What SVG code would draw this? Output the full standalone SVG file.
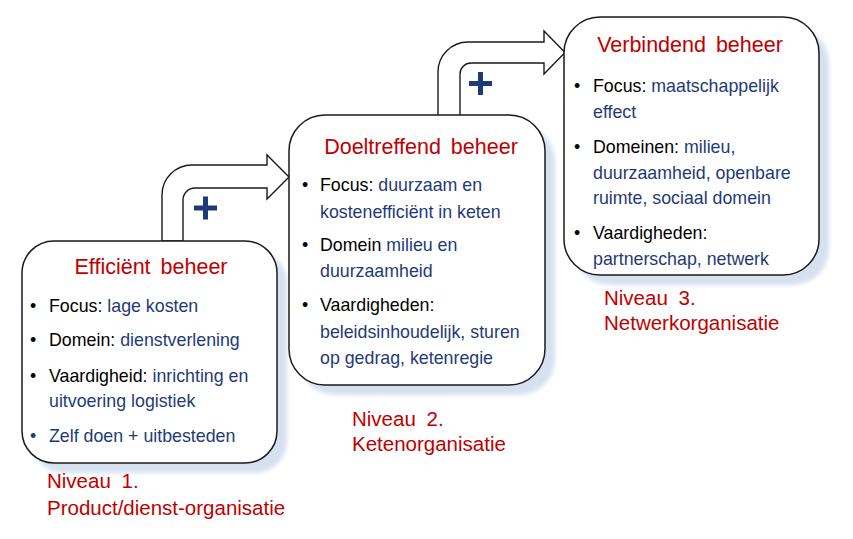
<svg xmlns="http://www.w3.org/2000/svg" width="853" height="539" viewBox="0 0 853 539">
<defs>
<filter id="blur" x="-10%" y="-10%" width="120%" height="120%"><feGaussianBlur stdDeviation="2"/></filter>
<style>
.box{fill:#fff;stroke:#1a1a1a;stroke-width:1.5}
.shadow{fill:#d6e1ef;filter:url(#blur)}
.arrow{fill:#fff;stroke:#1a1a1a;stroke-width:1.4;stroke-linejoin:miter}
.plus{stroke:#1f3a78;stroke-width:5;fill:none}
text{font-family:"Liberation Sans",Arial,sans-serif}
.title{font-size:21.5px;fill:#c00000;text-anchor:middle;word-spacing:4px}
.b{font-size:17.8px;fill:#000}
.n{fill:#1f3a78}
.lbl{font-size:20.5px;fill:#c00000}
</style>
</defs>
<g id="shadows">
<rect class="shadow" x="32" y="251" width="255" height="222" rx="32"/>
<rect class="shadow" x="299" y="125" width="256" height="270" rx="36"/>
<rect class="shadow" x="574" y="27" width="255" height="258" rx="36"/>
</g>
<g id="connectors">
<path class="arrow" d="M162,241 V195 A30,30 0 0 1 192,165 H267 V155 L289,177 L267,199 V188 H195 A12,12 0 0 0 183,200 V241 Z"/>
<path class="plus" d="M194,208 H217 M205.5,196.5 V219.5"/>
<path class="arrow" d="M438,116 V72 A30,30 0 0 1 468,42 H544 V31 L565,52.5 L544,74 V63 H471 A11,11 0 0 0 460,74 V116 Z"/>
<path class="plus" d="M469,83.5 H492 M480.5,72 V95"/>
</g>
<g id="node1">
<rect class="box" x="22" y="241" width="255" height="222" rx="32"/>
<text class="title" x="151" y="274">Efficiënt beheer</text>
<text class="b" x="30" y="312">•<tspan x="49">Focus: </tspan><tspan class="n">lage kosten</tspan></text>
<text class="b" x="30" y="346">•<tspan x="49">Domein: </tspan><tspan class="n">dienstverlening</tspan></text>
<text class="b" x="30" y="382">•<tspan x="49">Vaardigheid: </tspan><tspan class="n">inrichting en</tspan></text>
<text class="b n" x="49" y="407">uitvoering logistiek</text>
<text class="b n" x="30" y="442">•<tspan x="49">Zelf doen + uitbesteden</tspan></text>
</g>
<g id="node2">
<rect class="box" x="289" y="115" width="256" height="270" rx="36"/>
<text class="title" x="421" y="154">Doeltreffend beheer</text>
<text class="b" x="302" y="191">•<tspan x="320">Focus: </tspan><tspan class="n">duurzaam en</tspan></text>
<text class="b n" x="320" y="218">kostenefficiënt in keten</text>
<text class="b" x="302" y="251">•<tspan x="320">Domein </tspan><tspan class="n">milieu en</tspan></text>
<text class="b n" x="320" y="277">duurzaamheid</text>
<text class="b" x="302" y="311">•<tspan x="320">Vaardigheden:</tspan></text>
<text class="b n" x="320" y="338">beleidsinhoudelijk, sturen</text>
<text class="b n" x="320" y="364">op gedrag, ketenregie</text>
</g>
<g id="node3">
<rect class="box" x="564" y="17" width="255" height="258" rx="36"/>
<text class="title" x="690" y="52">Verbindend beheer</text>
<text class="b" x="574" y="92">•<tspan x="593">Focus: </tspan><tspan class="n">maatschappelijk</tspan></text>
<text class="b n" x="593" y="118">effect</text>
<text class="b" x="574" y="153">•<tspan x="593">Domeinen: </tspan><tspan class="n">milieu,</tspan></text>
<text class="b n" x="593" y="179">duurzaamheid, openbare</text>
<text class="b n" x="593" y="204">ruimte, sociaal domein</text>
<text class="b" x="574" y="239">•<tspan x="593">Vaardigheden:</tspan></text>
<text class="b n" x="593" y="265">partnerschap, netwerk</text>
</g>
<g id="labels">
<text class="lbl" x="47" y="488" word-spacing="5">Niveau 1.</text>
<text class="lbl" x="47" y="515">Product/dienst-organisatie</text>
<text class="lbl" x="352" y="426" word-spacing="5">Niveau 2.</text>
<text class="lbl" x="352" y="451">Ketenorganisatie</text>
<text class="lbl" x="604" y="305" word-spacing="5">Niveau 3.</text>
<text class="lbl" x="604" y="330">Netwerkorganisatie</text>
</g>
</svg>
